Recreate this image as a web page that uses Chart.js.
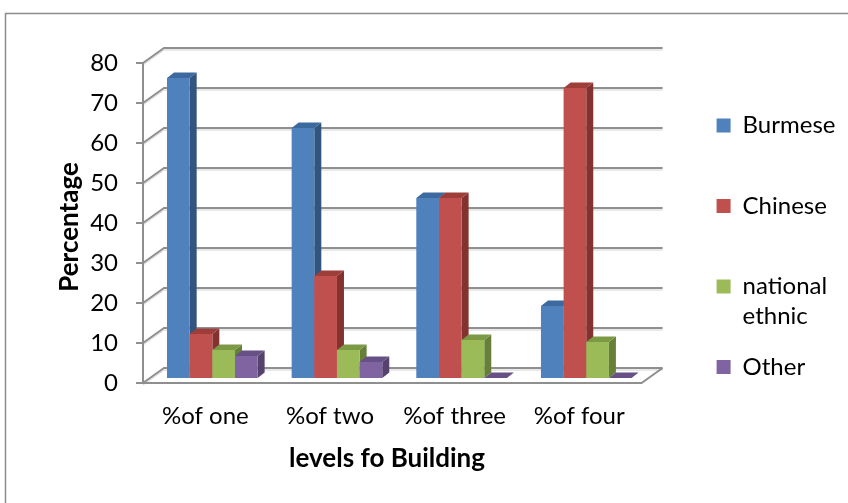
<!DOCTYPE html>
<html lang="en">
<head>
<meta charset="UTF-8">
<title>levels fo Building</title>
<style>
  html, body { margin: 0; padding: 0; background: #fff; }
  .wrap { position: relative; width: 848px; height: 503px; }
</style>
</head>
<body>
<div class="wrap">
  <canvas id="myChart" width="848" height="503"></canvas>
</div>

<script src="https://cdn.jsdelivr.net/npm/chart.js"></script>
<script>
// values
const categories = ['%of one', '%of two', '%of three', '%of four'];
const seriesNames = ['Burmese', 'Chinese', 'national ethnic', 'Other'];
const burmese  = [75, 62.5, 45, 18];
const chinese  = [11, 25.5, 45, 72.5];
const national = [7, 7, 9.5, 9];
const other    = [5.5, 4, 0, 0];
const yTicks = [0, 10, 20, 30, 40, 50, 60, 70, 80];

// front / top / side colours of each series
const colFront = ['#4f81bd', '#c0504d', '#9bbb59', '#8064a2'];
const colTop   = ['#3d6a9e', '#9e3e3b', '#7c9a45', '#665085'];
const colSide  = ['#31557f', '#833230', '#66803a', '#55436e'];

const FONT = 'Lato';
const depth = { fx: -21, fy: 15 };   // floor front edge, from the back wall
const barOff = { x: -14, y: 10 };    // bar front face, from the back wall
const barDepth = { x: 7, y: 5.5 };

const frame3d = {
  id: 'frame3d',
  beforeDatasetsDraw(chart) {
    const ctx = chart.ctx;
    const ca = chart.chartArea;
    const ys = chart.scales.y;
    ctx.save();
    // outer border
    ctx.strokeStyle = '#8c8c8c';
    ctx.lineWidth = 1.5;
    ctx.strokeRect(5.5, 13.5, 900, 600);

    // back wall grid + left wall diagonals
    yTicks.forEach(v => {
      const y = ys.getPixelForValue(v);
      ctx.strokeStyle = '#d2d2d2';
      ctx.lineWidth = 1;
      ctx.beginPath();
      ctx.moveTo(ca.left + depth.fx, y + depth.fy + 2);
      ctx.lineTo(ca.left, y + 2);
      ctx.lineTo(ca.right, y + 2);
      ctx.stroke();
      ctx.strokeStyle = '#8f8f8f';
      ctx.lineWidth = 2;
      ctx.beginPath();
      ctx.moveTo(ca.left + depth.fx, y + depth.fy);
      ctx.lineTo(ca.left, y);
      ctx.lineTo(ca.right, y);
      ctx.stroke();
      // tick mark on the front axis
      ctx.beginPath();
      ctx.moveTo(ca.left + depth.fx - 7, y + depth.fy);
      ctx.lineTo(ca.left + depth.fx, y + depth.fy);
      ctx.stroke();
    });

    // floor outline
    ctx.strokeStyle = '#8f8f8f';
    ctx.lineWidth = 2;
    ctx.beginPath();
    ctx.moveTo(ca.left + depth.fx, ca.bottom + depth.fy);
    ctx.lineTo(ca.right + depth.fx, ca.bottom + depth.fy);
    ctx.lineTo(ca.right, ca.bottom);
    ctx.stroke();

    // front value axis
    ctx.beginPath();
    ctx.moveTo(ca.left + depth.fx, ca.top + depth.fy);
    ctx.lineTo(ca.left + depth.fx, ca.bottom + depth.fy);
    ctx.stroke();
    ctx.restore();
  },
  beforeDatasetDraw() {
    return false; // bars are drawn as 3D blocks below
  },
  afterDatasetsDraw(chart) {
    const ctx = chart.ctx;
    ctx.save();
    for (let i = 0; i < categories.length; i++) {
      chart.data.datasets.forEach((ds, d) => {
        const el = chart.getDatasetMeta(d).data[i];
        const p = el.getProps(['x', 'y', 'base', 'width'], true);
        const l = p.x - p.width / 2 + barOff.x;
        const r = l + p.width;
        const t = p.y + barOff.y;
        const b = p.base + barOff.y;
        const sx = barDepth.x, sy = barDepth.y;
        // side
        ctx.fillStyle = colSide[d];
        ctx.beginPath();
        ctx.moveTo(r, t); ctx.lineTo(r + sx, t - sy);
        ctx.lineTo(r + sx, b - sy); ctx.lineTo(r, b);
        ctx.closePath(); ctx.fill();
        // top
        ctx.fillStyle = colTop[d];
        ctx.beginPath();
        ctx.moveTo(l, t); ctx.lineTo(r, t);
        ctx.lineTo(r + sx, t - sy); ctx.lineTo(l + sx, t - sy);
        ctx.closePath(); ctx.fill();
        // front
        ctx.fillStyle = colFront[d];
        ctx.fillRect(l, t, p.width, b - t);
      });
    }
    ctx.restore();
  },
  afterDraw(chart) {
    // axis titles sit on the front plane, not the chart area centre
    const ctx = chart.ctx;
    ctx.save();
    ctx.fillStyle = '#000';
    ctx.font = 'bold 26px ' + FONT;
    ctx.textAlign = 'center';
    ctx.textBaseline = 'middle';
    ctx.fillText('levels fo Building', 387, 459);
    ctx.translate(70, 227);
    ctx.rotate(-Math.PI / 2);
    ctx.fillText('Percentage', 0, 0);
    ctx.restore();
  }
};

const ctx = document.getElementById('myChart');

const Grafico = new Chart(ctx, {
  type: 'bar',
  data: {
    labels: categories,
    datasets: [burmese, chinese, national, other].map((vals, d) => ({
      label: seriesNames[d],
      data: vals,
      backgroundColor: colFront[d],
      borderWidth: 0,
      barPercentage: 1,
      categoryPercentage: 0.727
    }))
  },
  options: {
    responsive: false,
    animation: false,
    events: [],
    layout: { padding: { top: 48, bottom: 22.5, left: 0, right: 12.7 } },
    scales: {
      x: {
        grid: { display: false, drawTicks: true, tickLength: 30 },
        border: { display: false },
        ticks: { color: '#000', font: { family: FONT, size: 24 }, padding: 4, labelOffset: -21 },
        afterFit(s) { s.height = 112.5; }
      },
      y: {
        min: 0,
        max: 80,
        grid: { display: false, drawTicks: true, tickLength: 42 },
        border: { display: false },
        ticks: { stepSize: 10, color: '#000', font: { family: FONT, size: 24 }, padding: 4, labelOffset: 15 },
        afterFit(s) { s.width = 164; }
      },
      y2: {
        position: 'right',
        display: true,
        grid: { display: false, drawTicks: false },
        border: { display: false },
        ticks: { display: false },
        afterFit(s) { s.width = 33.5; }
      }
    },
    plugins: {
      tooltip: { enabled: false },
      legend: {
        position: 'right',
        align: 'center',
        labels: {
          color: '#000',
          font: { family: FONT, size: 24, lineHeight: 1.25 },
          boxWidth: 14,
          boxHeight: 14,
          padding: 20.5,
          generateLabels(chart) {
            const items = Chart.defaults.plugins.legend.labels.generateLabels(chart);
            items.forEach(it => {
              const words = it.text.split(' ');
              // trailing spaces widen the measured column so "Burmese" is not clipped
              it.text = words.length > 1 ? [words[0] + '    ', words[1]] : [it.text, ''];
              it.lineWidth = 0;
            });
            return items;
          }
        }
      }
    }
  },
  plugins: [frame3d]
});
</script>
</body>
</html>
